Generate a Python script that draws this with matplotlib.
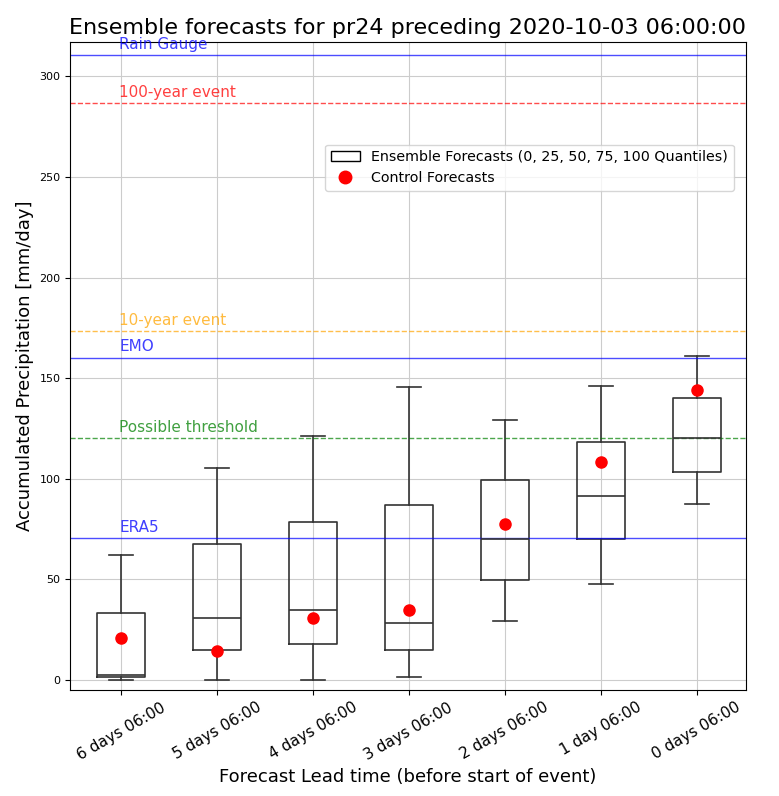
import matplotlib
matplotlib.use("Agg")
import matplotlib.pyplot as plt
from matplotlib.patches import Patch
from matplotlib.lines import Line2D

# ensemble quantiles per lead time (0, 25, 50, 75, 100)
lead_labels = ["6 days 06:00", "5 days 06:00", "4 days 06:00", "3 days 06:00",
               "2 days 06:00", "1 day 06:00", "0 days 06:00"]
q0 = [0.0, 0.0, 0.0, 1.7, 29.5, 47.5, 87.4]
q25 = [1.5, 14.9, 17.9, 14.9, 49.7, 69.9, 103.5]
q50 = [2.5, 30.6, 34.8, 28.5, 69.9, 91.4, 120.4]
q75 = [33.1, 67.6, 78.6, 86.9, 99.4, 118.1, 140.2]
q100 = [62.4, 105.5, 121.4, 145.4, 129.2, 146.0, 161.0]
control = [21.0, 14.4, 30.6, 34.8, 77.8, 108.4, 144.4]

# reference levels
ref_names = ["Rain Gauge", "100-year event", "10-year event", "EMO",
             "Possible threshold", "ERA5"]
ref_values = [310.5, 286.6, 173.4, 160.3, 120.4, 70.4]
ref_colors = ["blue", "red", "orange", "blue", "green", "blue"]
ref_styles = ["-", "--", "--", "-", "--", "-"]

fig, ax = plt.subplots(figsize=(7.79, 7.96), dpi=100)
fig.subplots_adjust(left=0.09, right=0.957, top=0.947, bottom=0.133)

positions = list(range(1, len(lead_labels) + 1))
stats = [{"whislo": a, "q1": b, "med": c, "q3": d, "whishi": e, "fliers": []}
         for a, b, c, d, e in zip(q0, q25, q50, q75, q100)]
lw = 1.2
box_col = "#333333"
ax.bxp(stats, positions=positions, widths=0.5, showfliers=False,
       boxprops=dict(color=box_col, linewidth=lw),
       medianprops=dict(color=box_col, linewidth=lw),
       whiskerprops=dict(color=box_col, linewidth=lw),
       capprops=dict(color=box_col, linewidth=lw))
ax.plot(positions, control, "o", color="red", markersize=8, zorder=5)

for name, val, col, ls in zip(ref_names, ref_values, ref_colors, ref_styles):
    ax.axhline(val, color=col, linestyle=ls, linewidth=1.0, alpha=0.7)
    ax.text(0.98, val + 1.5, name, color=col, fontsize=11, ha="left",
            va="bottom", alpha=0.75)

ax.set_xlim(0.47, 7.51)
ax.set_ylim(-5, 317)
ax.set_xticks(positions)
ax.set_xticklabels(lead_labels, rotation=30, fontsize=11)
ax.tick_params(axis="y", labelsize=8)
ax.grid(True, color="#cccccc", linewidth=0.8)
ax.set_axisbelow(True)

ax.set_xlabel("Forecast Lead time (before start of event)", fontsize=13)
ax.set_ylabel("Accumulated Precipitation [mm/day]", fontsize=13)
ax.set_title("Ensemble forecasts for pr24 preceding 2020-10-03 06:00:00",
             fontsize=16)

handles = [Patch(facecolor="white", edgecolor="black",
                 label="Ensemble Forecasts (0, 25, 50, 75, 100 Quantiles)"),
           Line2D([], [], marker="o", color="red", linestyle="none",
                  markersize=9, label="Control Forecasts")]
ax.legend(handles=handles, loc="upper right", bbox_to_anchor=(0.993, 0.853),
          fontsize=10.3)

fig.savefig("out.png", dpi=100, facecolor="white")
